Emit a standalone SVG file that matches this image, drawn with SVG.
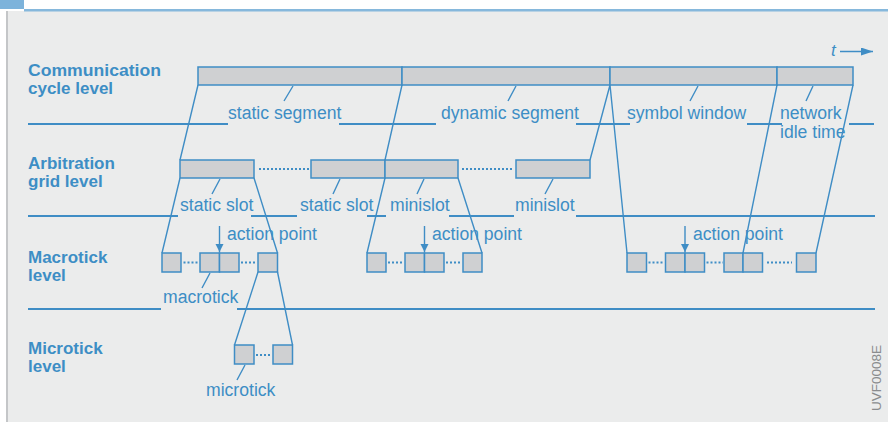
<svg xmlns="http://www.w3.org/2000/svg" width="888" height="422" viewBox="0 0 888 422">
<defs>
<style>
.lvl{font-family:"Liberation Sans",Arial,sans-serif;font-weight:bold;font-size:17px;fill:#3D8EC5}
.lbl{font-family:"Liberation Sans",Arial,sans-serif;font-size:17.6px;fill:#3D8EC5}
.box{fill:#CFD0D2;stroke:#3F8DC5;stroke-width:1.5}
.ln{stroke:#3F8DC5;stroke-width:1.4;fill:none}
.sep{stroke:#3F8DC5;stroke-width:2;fill:none}
.dot{stroke:#3F8DC5;stroke-width:2;stroke-dasharray:2 2;fill:none}
.code{font-family:"Liberation Sans",Arial,sans-serif;font-size:13.5px;fill:#8A8C8E}
</style>
<marker id="ah" markerUnits="userSpaceOnUse" markerWidth="8" markerHeight="10" refX="8" refY="4" orient="auto">
<path d="M0,0 L8,4 L0,8 z" fill="#3F8DC5"/>
</marker>
<marker id="th" markerUnits="userSpaceOnUse" markerWidth="12" markerHeight="8" refX="12" refY="4" orient="auto">
<path d="M0,0 L12,4 L0,8 z" fill="#3F8DC5"/>
</marker>
</defs>

<!-- frame -->
<rect x="0" y="0" width="888" height="422" fill="#FFFFFF"/>
<rect x="7" y="11" width="881" height="411" fill="#EBECEC"/>
<rect x="6" y="11" width="2" height="411" fill="#C4C6C8"/>
<rect x="0" y="0" width="24" height="9" fill="#7DB3DB"/>
<rect x="24" y="9" width="864" height="2.5" fill="#86B8DC"/>

<!-- level labels -->
<g id="level-labels">
<text class="lvl" x="28" y="76" textLength="133" lengthAdjust="spacingAndGlyphs">Communication</text>
<text class="lvl" x="28" y="94">cycle level</text>
<text class="lvl" x="28" y="169">Arbitration</text>
<text class="lvl" x="28" y="187">grid level</text>
<text class="lvl" x="28" y="263">Macrotick</text>
<text class="lvl" x="28" y="281">level</text>
<text class="lvl" x="28" y="354">Microtick</text>
<text class="lvl" x="28" y="372">level</text>
</g>

<!-- separators -->
<g id="separators">
<path class="sep" d="M28,124H228M339,124H436M576,124H630M747,124H782M849,124H874"/>
<path class="sep" d="M28,216H178M251,216H297M367,216H386M449,216H514M576,216H875"/>
<path class="sep" d="M28,309H161M237,309H875"/>
</g>

<!-- time arrow -->
<g id="time-axis">
<text x="831" y="56" font-family="Liberation Sans,Arial,sans-serif" font-style="italic" font-size="17px" fill="#3D8EC5">t</text>
<line class="ln" x1="840" y1="51.5" x2="873" y2="51.5" marker-end="url(#th)"/>
</g>

<!-- communication cycle -->
<g id="static-segment">
<rect class="box" x="198" y="67" width="204" height="18"/>
<text class="lbl" x="228" y="119">static segment</text>
</g>
<g id="dynamic-segment">
<rect class="box" x="402" y="67" width="208" height="18"/>
<text class="lbl" x="441" y="119">dynamic segment</text>
</g>
<g id="symbol-window">
<rect class="box" x="610" y="67" width="167" height="18"/>
<text class="lbl" x="627" y="119">symbol window</text>
</g>
<g id="network-idle-time">
<rect class="box" x="777" y="67" width="76" height="18"/>
<text class="lbl" x="780" y="119">network</text>
<text class="lbl" x="780" y="138">idle time</text>
</g>

<!-- arbitration grid -->
<g id="static-slot-1">
<rect class="box" x="180" y="160" width="74" height="18"/>
<text class="lbl" x="180" y="211">static slot</text>
</g>
<g id="static-slot-2">
<rect class="box" x="311" y="160" width="74" height="18"/>
<text class="lbl" x="300" y="211">static slot</text>
</g>
<g id="minislot-1">
<rect class="box" x="385" y="160" width="73" height="18"/>
<text class="lbl" x="390" y="211">minislot</text>
</g>
<g id="minislot-2">
<rect class="box" x="516" y="160" width="74" height="18"/>
<text class="lbl" x="515" y="211">minislot</text>
</g>

<!-- macroticks -->
<g id="macroticks-1">
<rect class="box" x="162" y="253" width="19" height="19"/>
<rect class="box" x="200" y="253" width="19.5" height="19"/>
<rect class="box" x="219.5" y="253" width="19.5" height="19"/>
<rect class="box" x="258" y="253" width="19.5" height="19"/>
<text class="lbl" x="227" y="240">action point</text>
<text class="lbl" x="163" y="303">macrotick</text>
</g>
<g id="macroticks-2">
<rect class="box" x="367" y="253" width="19" height="19"/>
<rect class="box" x="405" y="253" width="19.5" height="19"/>
<rect class="box" x="424.5" y="253" width="19.5" height="19"/>
<rect class="box" x="463" y="253" width="19" height="19"/>
<text class="lbl" x="432" y="240">action point</text>
</g>
<g id="macroticks-3">
<rect class="box" x="627" y="253" width="19.5" height="19"/>
<rect class="box" x="665.5" y="253" width="19.5" height="19"/>
<rect class="box" x="685" y="253" width="19.5" height="19"/>
<rect class="box" x="724" y="253" width="19" height="19"/>
<rect class="box" x="743" y="253" width="19.5" height="19"/>
<rect class="box" x="796.5" y="253" width="19.5" height="19"/>
<text class="lbl" x="693" y="240">action point</text>
</g>

<!-- microticks -->
<g id="microticks">
<rect class="box" x="234.5" y="345" width="19.5" height="19"/>
<rect class="box" x="273" y="345" width="19.5" height="19"/>
<text class="lbl" x="206" y="396">microtick</text>
</g>

<!-- connectors -->
<g id="connectors">
<path class="ln" d="M198,85L180,160M402,85L385,160M610,85L590,160M610,85L627,253M777,85L743,253M853,85L816,253"/>
<path class="ln" d="M180,178L162,253M254,178L277.5,253M385,178L367,253M458,178L482,253"/>
<path class="ln" d="M258,272L234.5,345M277.5,272L292.5,345"/>
<path class="ln" d="M293,86L284,101M516,86L508,101M698,86L690,101M813,86L806,101"/>
<path class="ln" d="M220,179L212,194M340,179L333,194M424,179L417,194M553,179L545,194"/>
<path class="ln" d="M210,273L202,288M245,365L237,380"/>
<path class="dot" d="M259,169H309M462,169H513"/>
<path class="dot" d="M183.5,262.5H199M241,262.5H257M388,262.5H404M446,262.5H462M648.5,262.5H664M706.5,262.5H723M767,262.5H792M256,355H272"/>
<line class="ln" x1="219.5" y1="226" x2="219.5" y2="252" marker-end="url(#ah)"/>
<line class="ln" x1="424.5" y1="226" x2="424.5" y2="252" marker-end="url(#ah)"/>
<line class="ln" x1="685" y1="226" x2="685" y2="252" marker-end="url(#ah)"/>
</g>

<text class="code" transform="translate(881,411) rotate(-90)">UVF0008E</text>
</svg>
